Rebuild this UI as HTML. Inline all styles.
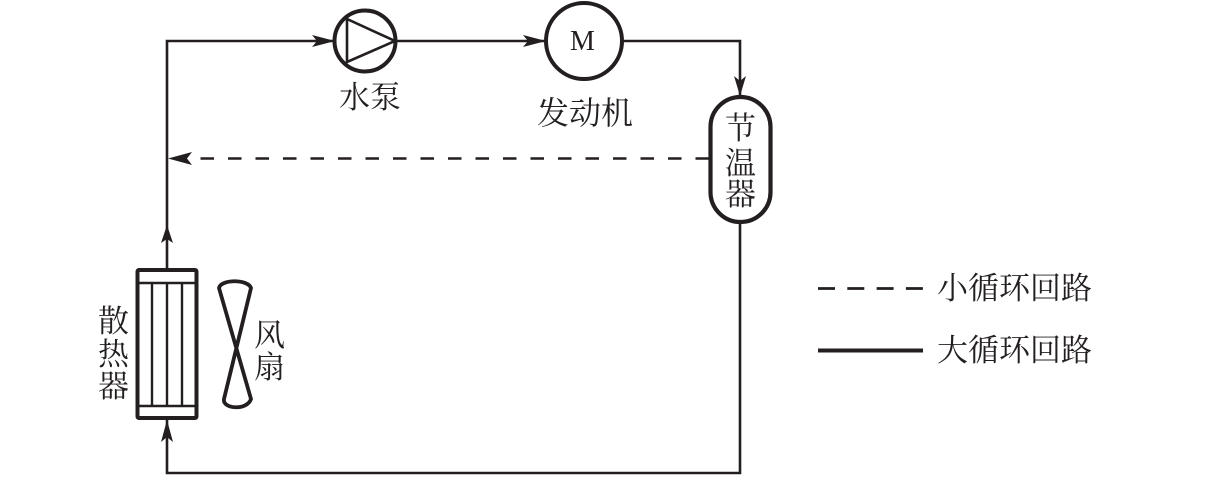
<!DOCTYPE html>
<html><head><meta charset="utf-8"><style>
html,body{margin:0;padding:0;background:#fff}
svg{display:block}
text{font-family:"Noto Serif CJK SC","Liberation Serif",serif;fill:#231f20;font-weight:400}
</style></head><body>
<svg width="1205" height="504" viewBox="0 0 1205 504" xmlns="http://www.w3.org/2000/svg">
<g fill="none" stroke="#231f20" stroke-width="2.600">
<path d="M167 269V41H334"/>
<path d="M396 41H546"/>
<path d="M622 41H740V96"/>
<path d="M740 222V473H167V419"/>
<path d="M709 158.500H178" stroke-dasharray="13.500 14" stroke-width="2.600"/>
<circle cx="365" cy="41" r="30.500" stroke-width="4"/>
<path d="M347 19V62L395 41Z" stroke-width="2.600"/>
<circle cx="584" cy="41" r="38" stroke-width="4"/>
<rect x="710.500" y="97" width="60" height="125" rx="30" ry="30" stroke-width="4.200"/>
<rect x="137.500" y="270" width="59" height="148" rx="1.500" stroke-width="4"/>
<path d="M138 283H196M138 406H196M152 283V406M167 283V406M182 283V406" stroke-width="2.400"/>
<path d="M219 288C221 279 248 279 251 288L224 399C222 409 247 411 251 399L219 288Z" stroke-width="3.800" stroke-linejoin="round"/>
<path d="M818 288.500H923" stroke-width="2.800" stroke-dasharray="17 12.300"/>
<path d="M818 350.500H923" stroke-width="4"/>
</g>
<g fill="#231f20">
<path d="M335 41L312 35L317 41L312 47Z"/>
<path d="M546 41L523 35L528 41L523 47Z"/>
<path d="M740 96L734 76L740 81L746 76Z"/>
<path d="M167 225L161 243L167 239L173 243Z"/>
<path d="M167 420L161 442L167 437L173 442Z"/>
<path d="M168 158.500L192 152L187 158.500L192 165Z"/>
</g>
<text x="570" y="50" font-size="28" style="font-family:'Liberation Serif',serif">M</text>
<text x="339" y="108" font-size="31">水泵</text>
<text x="537" y="124" font-size="32">发动机</text>
<text x="725" y="139" font-size="31">节</text>
<text x="725" y="174" font-size="31">温</text>
<text x="725" y="205" font-size="31">器</text>
<text x="98" y="332" font-size="31">散</text>
<text x="98" y="365" font-size="31">热</text>
<text x="98" y="397" font-size="31">器</text>
<text x="254" y="346" font-size="31">风</text>
<text x="254" y="378" font-size="31">扇</text>
<text x="937" y="299" font-size="31">小循环回路</text>
<text x="937" y="361" font-size="31">大循环回路</text>
</svg>
</body></html>
